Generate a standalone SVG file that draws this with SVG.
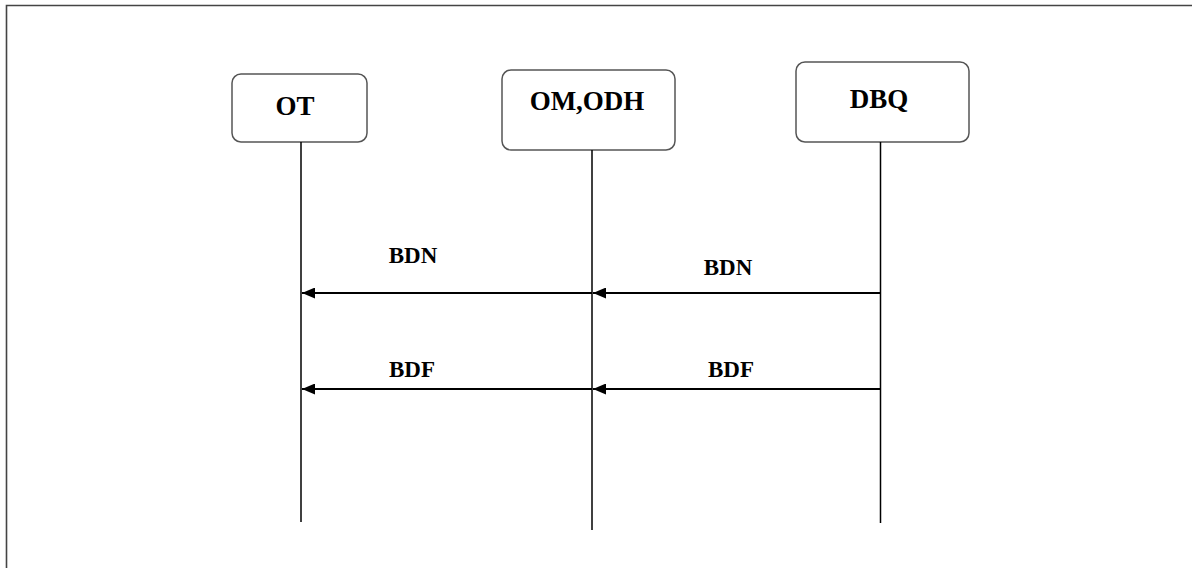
<svg xmlns="http://www.w3.org/2000/svg" width="1192" height="568" viewBox="0 0 1192 568">
<defs>
<style>
.box{fill:#fff;stroke:#555;stroke-width:1.5}
.t{font-family:"Liberation Serif","Times New Roman",serif;font-weight:bold;fill:#000;text-anchor:middle}
.bt{font-size:27px}
.lt{font-size:23px}
.life{stroke:#000;stroke-width:1.5;fill:none}
.msg{stroke:#000;stroke-width:1.8;fill:none;marker-end:url(#ah)}
</style>
<marker id="ah" viewBox="0 0 13 11" refX="13" refY="5.5" markerWidth="13" markerHeight="11" markerUnits="userSpaceOnUse" orient="auto">
<path d="M0,0 L13,5.5 L0,11 Z" fill="#000"/>
</marker>
</defs>
<rect width="1192" height="568" fill="#fff"/>
<path d="M6.5,568 V5.5 H1192" fill="none" stroke="#444" stroke-width="1.6"/>
<g id="OT">
<rect class="box" x="232" y="74" width="135" height="68" rx="9"/>
<text class="t bt" x="295" y="115">OT</text>
</g>
<g id="OMODH">
<rect class="box" x="502" y="70" width="173" height="80" rx="9"/>
<text class="t bt" x="587" y="110">OM,ODH</text>
</g>
<g id="DBQ">
<rect class="box" x="796" y="62" width="173" height="80" rx="9"/>
<text class="t bt" x="879" y="108">DBQ</text>
</g>
<g id="connectors">
<line class="life" x1="301" y1="142" x2="301" y2="522"/>
<line class="life" x1="592" y1="150" x2="592" y2="530"/>
<line class="life" x1="880.5" y1="142" x2="880.5" y2="523" stroke-width="2"/>
<line class="msg" x1="880" y1="293" x2="593" y2="293"/>
<line class="msg" x1="592" y1="293" x2="302" y2="293"/>
<line class="msg" x1="880" y1="389" x2="593" y2="389"/>
<line class="msg" x1="592" y1="389" x2="302" y2="389"/>
<text class="t lt" x="413" y="263">BDN</text>
<text class="t lt" x="728" y="275">BDN</text>
<text class="t lt" x="412" y="377">BDF</text>
<text class="t lt" x="731" y="377">BDF</text>
</g>
</svg>
